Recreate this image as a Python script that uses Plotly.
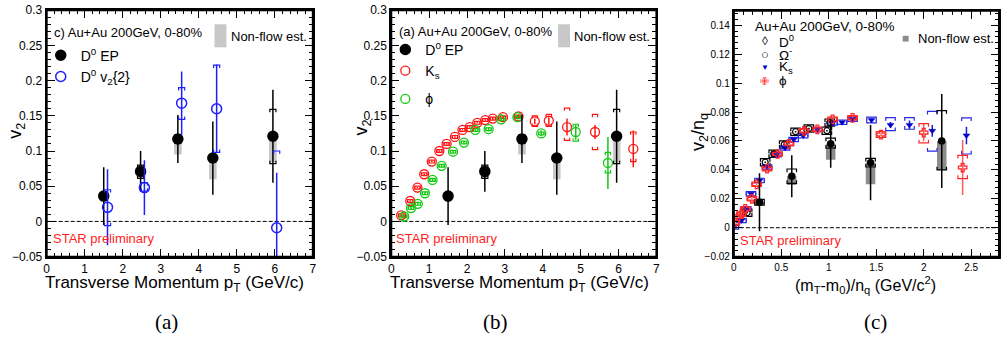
import plotly.graph_objects as go

# ---------------- data ----------------
# Panel (a)/(b): D0 v2 from event plane
ep_pt = [1.50, 2.47, 3.45, 4.37, 5.95]
ep_v2 = [0.036, 0.071, 0.117, 0.090, 0.121]
ep_stat = [0.041, 0.029, 0.034, 0.052, 0.066]
ep_sys_hi = [0.003, 0.009, 0.006, 0.003, 0.038]
ep_sys_lo = [0.003, 0.010, 0.006, 0.005, 0.039]
ep_nonflow = [0.003, 0.009, 0.022, 0.030, 0.037]

# Panel (a): D0 v2{2}
c2_pt = [1.60, 2.57, 3.55, 4.47, 6.05]
c2_v2 = [0.020, 0.048, 0.168, 0.160, -0.009]
c2_stat = [0.054, 0.039, 0.045, 0.063, 0.078]
c2_sys_hi = [0.025, 0.007, 0.022, 0.062, 0.109]
c2_sys_lo = [0.026, 0.005, 0.023, 0.062, 0.109]

# Panel (b): Ks
ks_pt = [0.26, 0.50, 0.69, 0.87, 1.07, 1.27, 1.46, 1.68, 1.88, 2.07, 2.27, 2.48, 2.68,
         2.95, 3.36, 3.79, 4.16, 4.64, 5.38, 6.39]
ks_v2 = [0.0086, 0.029, 0.048, 0.067, 0.085, 0.100, 0.110, 0.120, 0.130, 0.134, 0.140,
         0.144, 0.146, 0.148, 0.149, 0.142, 0.143, 0.134, 0.127, 0.103]
ks_stat = [0.001, 0.001, 0.001, 0.001, 0.001, 0.001, 0.001, 0.001, 0.001, 0.001, 0.001,
           0.001, 0.002, 0.002, 0.003, 0.004, 0.005, 0.012, 0.010, 0.026]
ks_sys_hi = [0.002, 0.002, 0.002, 0.002, 0.002, 0.002, 0.002, 0.002, 0.002, 0.002, 0.002,
             0.002, 0.002, 0.002, 0.002, 0.008, 0.009, 0.027, 0.025, 0.024]
ks_sys_lo = [0.002, 0.002, 0.002, 0.002, 0.002, 0.002, 0.002, 0.002, 0.002, 0.002, 0.002,
             0.002, 0.002, 0.002, 0.002, 0.007, 0.008, 0.019, 0.025, 0.018]

# Panel (b): phi
phi_pt = [0.34, 0.52, 0.70, 0.89, 1.09, 1.33, 1.63, 1.92, 2.22, 2.57, 2.90, 3.33, 3.96, 4.87, 5.72]
phi_v2 = [0.007, 0.019, 0.025, 0.040, 0.059, 0.079, 0.099, 0.112, 0.130, 0.131, 0.145,
          0.148, 0.125, 0.127, 0.083]
phi_stat = [0.002, 0.002, 0.002, 0.002, 0.002, 0.002, 0.002, 0.002, 0.002, 0.003, 0.003,
            0.003, 0.004, 0.011, 0.037]
phi_sys_hi = [0.002, 0.002, 0.002, 0.002, 0.002, 0.002, 0.002, 0.002, 0.002, 0.002, 0.002,
              0.002, 0.002, 0.011, 0.015]
phi_sys_lo = [0.002, 0.002, 0.002, 0.002, 0.002, 0.002, 0.002, 0.002, 0.002, 0.002, 0.002,
              0.002, 0.002, 0.013, 0.014]

# Panel (c): NCQ scaled
d0c_x = [0.27, 0.61, 1.02, 1.44, 2.19]
d0c_y = [0.0176, 0.0356, 0.058, 0.045, 0.060]
d0c_stat = [0.020, 0.0145, 0.0165, 0.026, 0.0325]
d0c_sys_hi = [0.002, 0.005, 0.004, 0.003, 0.021]
d0c_sys_lo = [0.002, 0.005, 0.003, 0.003, 0.020]
d0c_nonflow = [0.002, 0.006, 0.011, 0.015, 0.020]

om_x = [0.14, 0.33, 0.42, 0.53, 0.65, 0.79, 0.98, 1.01]
om_y = [0.0104, 0.0453, 0.0511, 0.0575, 0.0664, 0.0686, 0.0671, 0.0727]
om_sys = [0.0025, 0.0025, 0.0025, 0.0025, 0.0025, 0.0025, 0.0025, 0.0025]

ksc_x = [0.00, 0.08, 0.13, 0.18, 0.27, 0.35, 0.45, 0.54, 0.63, 0.73, 0.88, 1.04, 1.14,
         1.25, 1.45, 1.65, 1.85, 2.09, 2.45]
ksc_y = [0.0005, 0.005, 0.0131, 0.0235, 0.0327, 0.0420, 0.0504, 0.0552, 0.061, 0.0637,
         0.068, 0.0725, 0.073, 0.075, 0.0745, 0.0711, 0.0711, 0.067, 0.0638]
ksc_stat = [0.0005, 0.0005, 0.0005, 0.0005, 0.0005, 0.0005, 0.0005, 0.0005, 0.0005, 0.0005,
            0.0005, 0.0005, 0.0005, 0.0008, 0.001, 0.002, 0.003, 0.004, 0.006]
ksc_sys_hi = [0.0015, 0.0015, 0.0015, 0.0015, 0.0015, 0.0015, 0.0015, 0.0015, 0.0015, 0.0015,
              0.0015, 0.0015, 0.0015, 0.0015, 0.002, 0.005, 0.005, 0.0135, 0.0122]
ksc_sys_lo = [0.0015, 0.0015, 0.0015, 0.0015, 0.0015, 0.0015, 0.0015, 0.0015, 0.0015, 0.0015,
              0.0015, 0.0015, 0.0015, 0.0015, 0.002, 0.004, 0.003, 0.014, 0.0128]

phic_x = [0.01, 0.05, 0.08, 0.12, 0.19, 0.24, 0.35, 0.46, 0.58, 0.74, 0.88, 1.04, 1.25,
          1.55, 2.00, 2.41]
phic_y = [0.0033, 0.0078, 0.0093, 0.013, 0.020, 0.030, 0.0408, 0.051, 0.058, 0.067,
          0.068, 0.075, 0.076, 0.0644, 0.0658, 0.0416]
phic_stat = [0.0007, 0.0007, 0.0007, 0.0007, 0.0007, 0.0007, 0.0007, 0.0007, 0.0007, 0.0007,
             0.0007, 0.0007, 0.0007, 0.001, 0.006, 0.019]
phic_sys_hi = [0.0015, 0.0015, 0.0015, 0.0015, 0.0015, 0.0015, 0.0015, 0.0015, 0.0015, 0.0015,
               0.0015, 0.0015, 0.0015, 0.002, 0.0062, 0.0084]
phic_sys_lo = [0.0015, 0.0015, 0.0015, 0.0015, 0.0015, 0.0015, 0.0015, 0.0015, 0.0015, 0.0015,
               0.0015, 0.0015, 0.0015, 0.002, 0.0071, 0.0076]

# ---------------- helpers ----------------
W, H = 1003, 351
F = "Liberation Sans, Arial, sans-serif"
SERIF = "Liberation Serif, Times New Roman, serif"


def px(x):
    return x / W


def py(y):
    return 1 - y / H


def brackets(xs, ys, up, dn, hw, h):
    X, Y = [], []
    for x, y, u, d in zip(xs, ys, up, dn):
        t, b = y + u, y - d
        hh = min(h, t - b)
        X += [x - hw, x - hw, x + hw, x + hw, None, x - hw, x - hw, x + hw, x + hw, None]
        Y += [t - hh, t, t, t - hh, None, b + hh, b, b, b + hh, None]
    return X, Y


def bracket_trace(xs, ys, up, dn, hw, h, color, xa, ya, width=1.2):
    X, Y = brackets(xs, ys, up, dn, hw, h)
    return go.Scatter(x=X, y=Y, mode="lines", line=dict(color=color, width=width),
                      xaxis=xa, yaxis=ya, showlegend=False, hoverinfo="skip")


def nonflow_bar(xs, ys, nf, width, color, xa, ya):
    return go.Bar(x=xs, y=nf, base=[v - n for v, n in zip(ys, nf)], width=width,
                  marker=dict(color=color, line=dict(width=0)), xaxis=xa, yaxis=ya,
                  showlegend=False, hoverinfo="skip")


def points(xs, ys, err, symbol, size, color, xa, ya, name=None, legend=None,
           lw=1.5, ecolor=None, ethick=1.5, rank=None, group=None):
    d = dict(x=xs, y=ys, mode="markers",
             marker=dict(symbol=symbol, size=size, color=color, line=dict(color=color, width=lw)),
             error_y=dict(type="data", array=err, visible=True, width=0,
                          thickness=ethick, color=ecolor or color),
             xaxis=xa, yaxis=ya, showlegend=name is not None, name=name or "", hoverinfo="skip")
    if legend:
        d["legend"] = legend
    if rank is not None:
        d["legendrank"] = rank
    if group:
        d["legendgroup"] = group
    return go.Scatter(**d)


BLUE = "rgb(30,30,255)"
RED = "rgb(255,20,20)"
GREEN = "rgb(20,200,20)"
LGRAY = "rgba(185,185,185,0.8)"
DGRAY = "rgb(140,140,140)"

traces = []
# ---- panel (a)
traces.append(nonflow_bar(ep_pt, ep_v2, ep_nonflow, 0.2, LGRAY, "x", "y"))
traces.append(bracket_trace(ep_pt, ep_v2, ep_sys_hi, ep_sys_lo, 0.08, 0.004, "black", "x", "y"))
traces.append(points(ep_pt, ep_v2, ep_stat, "circle", 10, "black", "x", "y",
                     name="D<sup>0</sup> EP", legend="legend"))
traces.append(bracket_trace(c2_pt, c2_v2, c2_sys_hi, c2_sys_lo, 0.08, 0.004, BLUE, "x", "y"))
traces.append(points(c2_pt, c2_v2, c2_stat, "circle-open", 10, BLUE, "x", "y",
                     name="D<sup>0</sup> v<sub>2</sub>{2}", legend="legend"))

# ---- panel (b)
traces.append(nonflow_bar(ep_pt, ep_v2, ep_nonflow, 0.2, LGRAY, "x2", "y2"))
traces.append(bracket_trace(ks_pt, ks_v2, ks_sys_hi, ks_sys_lo, 0.07, 0.004, RED, "x2", "y2"))
traces.append(bracket_trace(phi_pt, phi_v2, phi_sys_hi, phi_sys_lo, 0.07, 0.004, GREEN, "x2", "y2"))
traces.append(points(ks_pt, ks_v2, ks_stat, "circle-open", 9, RED, "x2", "y2",
                     name="K<sub>s</sub>", legend="legend2", rank=2, group="g1", lw=1.3))
traces.append(points(phi_pt, phi_v2, phi_stat, "circle-open", 9, GREEN, "x2", "y2",
                     name="ϕ", legend="legend2", rank=3, group="g2", lw=1.3))
traces.append(bracket_trace(ep_pt, ep_v2, ep_sys_hi, ep_sys_lo, 0.08, 0.004, "black", "x2", "y2"))
traces.append(points(ep_pt, ep_v2, ep_stat, "circle", 10, "black", "x2", "y2",
                     name="D<sup>0</sup> EP", legend="legend2", rank=1, group="g1"))

# ---- panel (c)
traces.append(nonflow_bar(d0c_x, d0c_y, d0c_nonflow, 0.1, DGRAY, "x3", "y3"))
traces.append(bracket_trace(om_x, om_y, om_sys, om_sys, 0.05, 0.0022, "black", "x3", "y3"))
traces.append(bracket_trace(ksc_x, ksc_y, ksc_sys_hi, ksc_sys_lo, 0.05, 0.0022, "rgb(40,40,230)", "x3", "y3"))
traces.append(bracket_trace(phic_x, phic_y, phic_sys_hi, phic_sys_lo, 0.05, 0.0022, "rgb(255,40,40)", "x3", "y3"))
traces.append(bracket_trace(d0c_x, d0c_y, d0c_sys_hi, d0c_sys_lo, 0.05, 0.0022, "black", "x3", "y3"))
traces.append(points(om_x, om_y, [0.0005] * len(om_x), "circle-open", 6, "black", "x3", "y3", lw=1.2))
traces.append(points(ksc_x, ksc_y, ksc_stat, "triangle-down", 6, "rgb(0,0,200)", "x3", "y3",
                     lw=0.5, ecolor="rgb(30,30,220)"))
traces.append(points(phic_x, phic_y, phic_stat, "cross-open", 7, "rgb(255,40,40)", "x3", "y3",
                     lw=1.3, ecolor="rgba(255,40,40,0.75)"))
traces.append(points(d0c_x, d0c_y, d0c_stat, "circle", 6, "black", "x3", "y3"))

fig = go.Figure(traces)


def axis(domain, rng, dtick, minor, anchor, size):
    return dict(domain=domain, range=rng, dtick=dtick, tick0=0, anchor=anchor,
                showline=True, linewidth=2, linecolor="black", mirror="allticks",
                ticks="inside", ticklen=8, tickwidth=1, tickcolor="black",
                showgrid=False, zeroline=False, ticklabeloverflow="allow",
                tickfont=dict(family=F, size=size, color="black"),
                minor=dict(dtick=minor, ticks="inside", ticklen=4, tickwidth=1,
                           tickcolor="black", showgrid=False))


ydom_ab = [1 - 260 / H, 1 - 3.3 / H]
ydom_c = [1 - 260 / H, 1 - 4 / H]

annotations = []


def ann(text, x, y, size, color="black", xanchor="left", family=F, angle=0):
    annotations.append(dict(text=text, x=px(x), y=py(y), xref="paper", yref="paper",
                            showarrow=False, xanchor=xanchor, yanchor="middle",
                            textangle=angle, font=dict(size=size, color=color, family=family)))


# panel a texts
ann("c) Au+Au 200GeV, 0-80%", 49, 27, 13)
ann("Non-flow est.", 228, 31, 13)
ann("STAR preliminary", 48, 241, 13, color="rgb(255,30,30)")
ann("Transverse Momentum p<sub>T</sub> (GeV/c)", 305, 289, 17, xanchor="right")
ann("v<sub>2</sub>", 14, 129, 18, xanchor="center", angle=-90)
ann("(a)", 165, 328, 21, xanchor="center", family=SERIF)
# panel b texts
ann("(a) Au+Au 200GeV, 0-80%", 397, 25, 13)
ann("Non-flow est.", 573, 31, 13)
ann("STAR preliminary", 394, 241, 13, color="rgb(255,30,30)")
ann("Transverse Momentum p<sub>T</sub> (GeV/c)", 653, 289, 17, xanchor="right")
ann("v<sub>2</sub>", 362, 125, 18, xanchor="center", angle=-90)
ann("(b)", 496, 328, 21, xanchor="center", family=SERIF)
# panel c texts
ann("Au+Au 200GeV, 0-80%", 755, 20, 13.5)
ann("◊", 767, 35, 12, xanchor="center")
ann("○", 767, 49, 13, xanchor="center")
ann("▼", 767, 63, 8, xanchor="center", color="rgb(0,0,200)")
ann("✙", 767, 77, 11, xanchor="center", color="rgb(255,40,40)")
ann("D<sup>0</sup>", 779, 35, 13.5)
ann("Ω<sup>-</sup>", 779, 49, 13.5)
ann("K<sub>s</sub>", 779, 63, 13.5)
ann("ϕ", 779, 77, 13.5)
ann("Non-flow est.", 919, 33, 13)
ann("STAR preliminary", 740, 243, 13, color="rgb(255,30,30)")
ann("(m<sub>T</sub>-m<sub>0</sub>)/n<sub>q</sub> (GeV/c<sup>2</sup>)", 869, 290, 16, xanchor="center")
ann("v<sub>2</sub>/n<sub>q</sub>", 702, 130, 18, xanchor="center", angle=-90)
ann("(c)", 879, 328, 21, xanchor="center", family=SERIF)

shapes = []
for xa in ["x", "x2", "x3"]:
    ya = xa.replace("x", "y")
    shapes.append(dict(type="line", xref=f"{xa} domain", yref=ya, x0=0, x1=1, y0=0, y1=0,
                       line=dict(color="black", width=1, dash="4px,2px"), layer="below"))
    # frame around each panel
    shapes.append(dict(type="rect", xref=f"{xa} domain", yref=f"{ya} domain",
                       x0=0, x1=1, y0=0, y1=1, line=dict(color="black", width=2),
                       fillcolor="rgba(0,0,0,0)", layer="above"))
shapes.append(dict(type="rect", xref="paper", yref="paper", x0=px(213), x1=px(225),
                   y0=py(42), y1=py(18), fillcolor="rgb(200,200,200)", line=dict(width=0)))
shapes.append(dict(type="rect", xref="paper", yref="paper", x0=px(559), x1=px(571),
                   y0=py(42), y1=py(18), fillcolor="rgb(200,200,200)", line=dict(width=0)))
shapes.append(dict(type="rect", xref="paper", yref="paper", x0=px(906), x1=px(912),
                   y0=py(36), y1=py(30), fillcolor="rgb(140,140,140)", line=dict(width=0)))

fig.update_layout(
    width=W, height=H, margin=dict(l=0, r=0, t=0, b=0),
    paper_bgcolor="white", plot_bgcolor="white", barmode="overlay",
    font=dict(family=F, color="black"),
    xaxis=axis([44 / W, 312 / W], [0, 7.0001], 1, 0.2, "y", 12),
    yaxis=axis(ydom_ab, [-0.05, 0.30001], 0.05, 0.01, "x", 12),
    xaxis2=axis([391 / W, 658 / W], [0, 7.0001], 1, 0.2, "y2", 12),
    yaxis2=axis(ydom_ab, [-0.05, 0.30001], 0.05, 0.01, "x2", 12),
    xaxis3=axis([736 / W, 1.0], [0, 2.793], 0.5, 0.1, "y3", 10),
    yaxis3=axis(ydom_c, [-0.02, 0.15], 0.02, 0.004, "x3", 10),
    legend=dict(x=px(38), y=py(34), xanchor="left", yanchor="top", bgcolor="rgba(0,0,0,0)",
                font=dict(family=F, size=14, color="black"), traceorder="normal"),
    legend2=dict(x=px(385), y=py(28), xanchor="left", yanchor="top", bgcolor="rgba(0,0,0,0)",
                 font=dict(family=F, size=14, color="black"), traceorder="grouped",
                 tracegroupgap=7),
    annotations=annotations,
    shapes=shapes,
)

fig.write_html("out.html", config={"displayModeBar": False},
               post_script="document.body.style.margin='0px';")
